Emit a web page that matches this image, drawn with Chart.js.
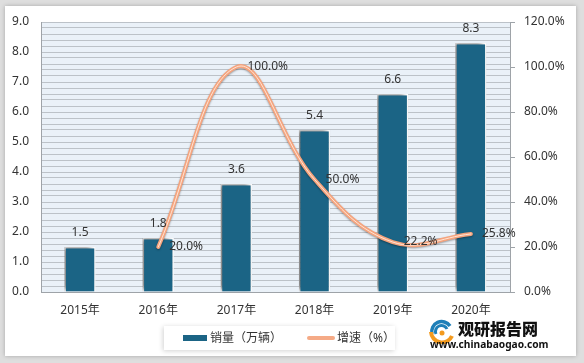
<!DOCTYPE html>
<html><head><meta charset="utf-8">
<script src="https://cdn.jsdelivr.net/npm/chart.js@4.4.1/dist/chart.umd.min.js"></script>
<style>
html,body{margin:0;padding:0;width:584px;height:363px;overflow:hidden;background:#dedede;font-family:"Noto Sans","Noto Sans CJK SC",sans-serif;}
#card{position:absolute;left:5px;top:6px;width:571px;height:350px;background:#fff;box-shadow:0 0 4px rgba(0,0,0,0.25);}
#wrap{position:absolute;left:0;top:0;width:584px;height:363px;}
#legend{position:absolute;left:164px;top:326px;width:231px;height:24px;background:#fff;box-shadow:-1px 1px 5px rgba(0,0,0,0.18);font-size:12px;color:#333;}
#legend .it{position:absolute;top:4px;height:16px;line-height:16px;white-space:nowrap;}
#wm1{position:absolute;left:458px;top:318px;font-family:"Noto Sans CJK SC",sans-serif;font-weight:900;font-size:16px;color:#111;letter-spacing:0px;line-height:20px;}
#wm2{position:absolute;left:430px;top:337px;font-family:"Noto Sans","DejaVu Sans",sans-serif;font-weight:700;font-size:10.2px;color:#111;line-height:14px;}
#logo{position:absolute;left:428px;top:318px;}
</style></head>
<body>
<div id="card"></div>
<div id="wrap"><canvas id="c" width="584" height="363"></canvas></div>
<div id="legend">
  <div class="it" style="left:19px;"><span style="display:inline-block;width:24px;height:6px;background:#1b6485;vertical-align:middle;margin-right:3px;position:relative;top:-1px;"></span>销量（万辆）</div>
  <div class="it" style="left:143px;"><span style="display:inline-block;width:28px;height:4px;border-radius:2px;background:#f5aa86;vertical-align:middle;margin-right:2px;position:relative;top:-1px;"></span>增速（%）</div>
</div>
<svg id="logo" width="30" height="26" viewBox="0 0 30 26">
  <path d="M4 16 A10 10 0 0 1 22 8" stroke="#1e7fb8" stroke-width="3.5" fill="none"/>
  <path d="M8 16 A6 6 0 0 1 19 11" stroke="#1e7fb8" stroke-width="3" fill="none"/>
  <path d="M3 14 A11 11 0 0 0 24 18" stroke="#f39a1e" stroke-width="4" fill="none"/>
  <circle cx="14" cy="15" r="2.5" fill="#f39a1e"/>
</svg>
<div id="wm1">观研报告网</div>
<div id="wm2">www.chinabaogao.com</div>
<script>
const categories = ['2015年','2016年','2017年','2018年','2019年','2020年'];
const salesValues = [1.5, 1.8, 3.6, 5.4, 6.6, 8.3];
const growthValues = [null, 20.0, 100.0, 50.0, 22.2, 25.8];
const salesLabel = '销量（万辆）';
const growthLabel = '增速（%）';
const leftAxisMax = 9;
const leftGridStep = 0.2;
const rightAxisMax = 120;
const rightAxisStep = 20;

const FONT = '"Noto Sans","Noto Sans CJK SC",sans-serif';

const plotBg = {
  id:'plotBg',
  beforeDraw(chart){
    const {ctx, chartArea:a} = chart;
    ctx.save();
    ctx.fillStyle = '#eaf1f8';
    ctx.fillRect(a.left, a.top, a.right-a.left, a.bottom-a.top);
    ctx.restore();
  }
};
const shadows = {
  id:'shadows',
  beforeDatasetDraw(chart, args){
    const ctx = chart.ctx;
    ctx.save();
    if(args.index === 0){
      ctx.shadowColor = 'rgba(0,0,0,0.55)';
      ctx.shadowBlur = 5;
      ctx.shadowOffsetX = -3;
      ctx.shadowOffsetY = -2;
    } else {
      ctx.shadowColor = 'rgba(0,0,0,0.35)';
      ctx.shadowBlur = 2;
      ctx.shadowOffsetX = 0;
      ctx.shadowOffsetY = 1;
    }
  },
  afterDatasetDraw(chart, args){
    chart.ctx.restore();
    if(args.index === 1){
      const el = args.meta.dataset;
      const saved = el.options;
      el.options = Object.assign({}, saved, {borderColor:'rgba(255,235,222,0.9)', borderWidth:1});
      el.draw(chart.ctx, chart.chartArea);
      el.options = saved;
    }
  }
};
const valueLabels = {
  id:'valueLabels',
  afterDatasetsDraw(chart){
    const ctx = chart.ctx;
    ctx.save();
    ctx.font = '12px ' + FONT;
    ctx.fillStyle = '#333';
    ctx.textBaseline = 'middle';
    const m0 = chart.getDatasetMeta(0);
    ctx.textAlign = 'center';
    m0.data.forEach((b,i)=>{
      ctx.fillText(salesValues[i].toFixed(1), b.x, b.y - 14);
    });
    const m1 = chart.getDatasetMeta(1);
    ctx.textAlign = 'left';
    m1.data.forEach((p,i)=>{
      if(growthValues[i] === null) return;
      ctx.fillText(growthValues[i].toFixed(1) + '%', p.x + 11, p.y);
    });
    ctx.restore();
  }
};

new Chart(document.getElementById('c'), {
  data:{
    labels: categories,
    datasets:[
      {type:'bar', label:salesLabel, data:salesValues, yAxisID:'y', order:2,
       backgroundColor:'#1b6485', borderColor:'#ffffff', borderWidth:1.5,
       barPercentage:0.4, categoryPercentage:1},
      {type:'line', label:growthLabel, data:growthValues, yAxisID:'y1', order:1,
       borderColor:'#f5a47e', borderWidth:4, tension:0.4, pointRadius:0, fill:false,
       spanGaps:false, borderCapStyle:'round'}
    ]
  },
  options:{
    responsive:false,
    devicePixelRatio:1,
    animation:false,
    layout:{padding:{top:22,left:0,right:0,bottom:0}},
    plugins:{legend:{display:false}, tooltip:{enabled:false}},
    scales:{
      x:{
        grid:{display:false, drawTicks:false},
        border:{display:true, color:'#9ea3a8', width:1},
        ticks:{color:'#333', font:{size:12, family:FONT}, padding:11, maxRotation:0},
        afterFit(s){ s.height = 71; }
      },
      y:{
        position:'left', min:0, max:leftAxisMax,
        grid:{color:'#bcc2c8', lineWidth:1, drawTicks:false},
        border:{display:true, color:'#9ea3a8', width:1},
        ticks:{autoSkip:false, padding:12, color:'#333',
          font:{size:12, family:FONT},
          callback:(v)=> Math.abs(v-Math.round(v))<1e-6 ? Math.round(v).toFixed(1) : ''},
        afterBuildTicks(s){
          const n = Math.round(leftAxisMax/leftGridStep);
          const t = [];
          for(let i=0;i<=n;i++) t.push({value: +(i*leftGridStep).toFixed(4)});
          s.ticks = t;
        },
        afterFit(s){ s.width = 41; }
      },
      y1:{
        position:'right', min:0, max:rightAxisMax,
        grid:{drawOnChartArea:false, drawTicks:true, tickLength:5, color:'#9ea3a8'},
        border:{display:true, color:'#9ea3a8', width:1},
        ticks:{stepSize:rightAxisStep, padding:9, color:'#333', font:{size:12, family:FONT},
          callback:(v)=> v.toFixed(1)+'%'},
        afterFit(s){ s.width = 74; }
      }
    }
  },
  plugins:[plotBg, shadows, valueLabels]
});
</script>
</body></html>
